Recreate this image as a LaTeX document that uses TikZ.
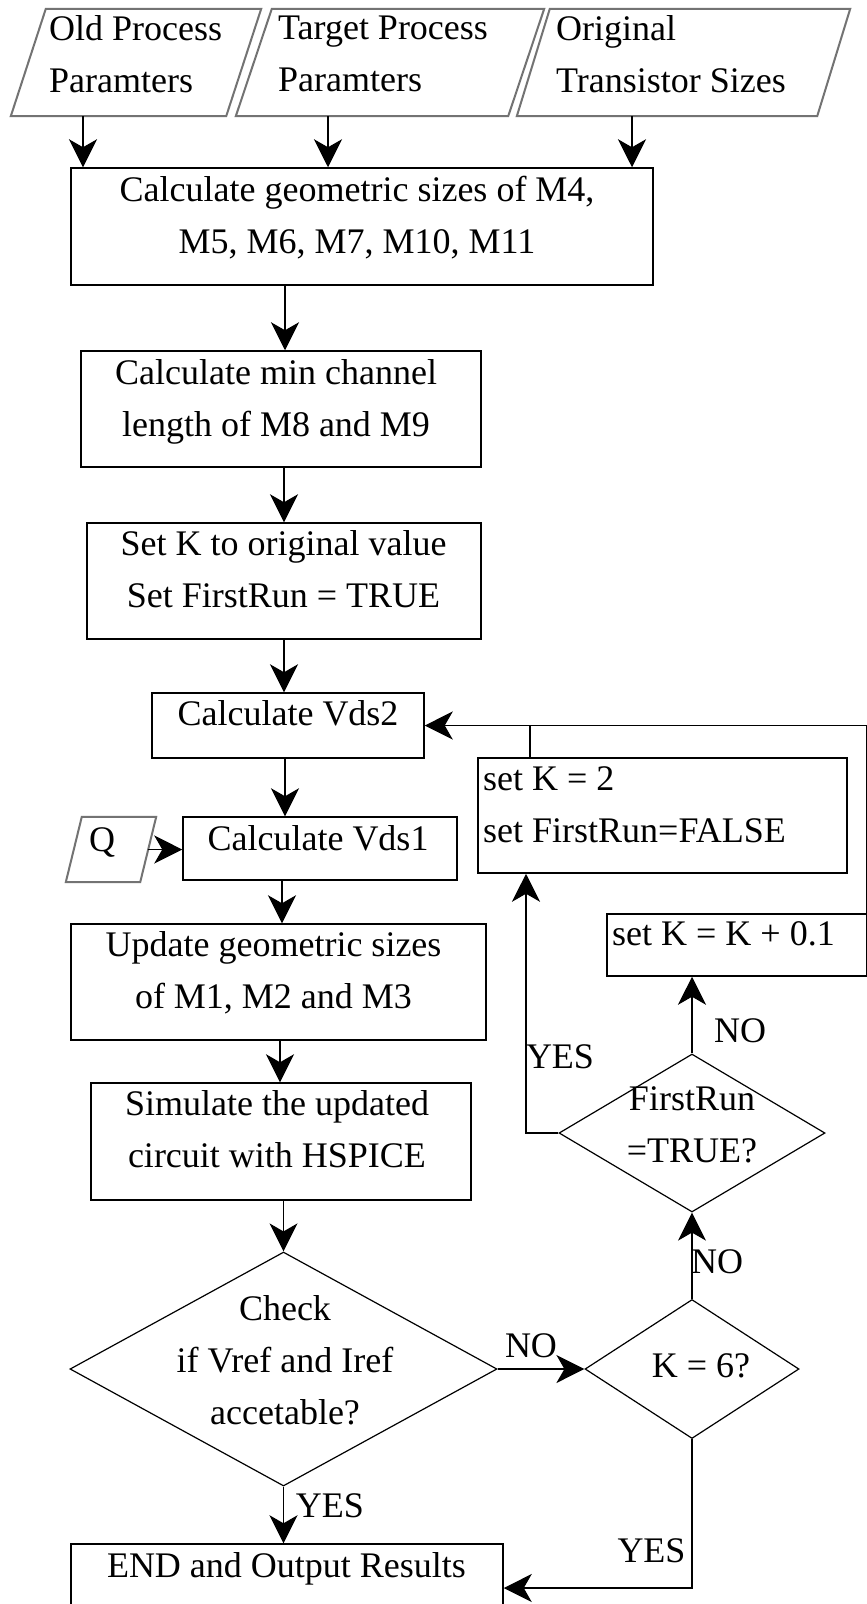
\documentclass[tikz,border=0pt]{standalone}
\usepackage{fontspec}
\setmainfont{Liberation Serif}
\usetikzlibrary{arrows.meta,shapes.geometric}
\newcommand\diagfont{\fontsize{36}{52}\selectfont}
\newcommand\drawpara[2]{\draw[iopath] ([xshift=#2/2]#1.north west) -- ([xshift=#2/2]#1.north east) -- ([xshift=-#2/2]#1.south east) -- ([xshift=-#2/2]#1.south west) -- cycle;}
\begin{document}
\begin{tikzpicture}[x=1pt,y=-1pt,
  box/.style={draw, line width=1.5pt, inner sep=0pt, rectangle},
  io/.style={rectangle, inner sep=0pt},
  iopath/.style={draw=black!55, line width=2pt, line join=miter},
  dec/.style={draw, line width=1.2pt, diamond, inner sep=2pt},
  txt/.style={font=\diagfont, inner sep=0pt},
  arr/.style={line width=1.5pt, -{Stealth[length=28pt,width=28pt,inset=8pt]}},
  ln/.style={line width=1.5pt}]
\fill[white] (0,0) rectangle (867,1604);
\useasboundingbox (0,0) rectangle (867,1604);

% input parallelograms
\node[io, minimum width=215, minimum height=107] (P1) at (136,62.5) {};
\node[io, minimum width=272, minimum height=107] (P2) at (390,62.5) {};
\node[io, minimum width=300, minimum height=107] (P3) at (683.5,62.5) {};
\drawpara{P1}{35}
\drawpara{P2}{36}
\drawpara{P3}{33}
\node[txt, anchor=west, align=left] (t1) at (49,53.7) {Old Process\\Paramters};
\node[txt, anchor=west, align=left] (t2) at (278,54) {Target Process\\Paramters};
\node[txt, anchor=west, align=left] (t3) at (556,53.7) {Original\\Transistor Sizes};

% main column
\node[box, minimum width=582, minimum height=117] (B1) at (362,226.5) {};
\node[txt, align=center] (tb1) at (357,217.7) {Calculate geometric sizes of M4,\\M5, M6, M7, M10, M11};
\node[box, minimum width=400, minimum height=116] (B2) at (281,409) {};
\node[txt, align=center] (tb2) at (276,401.6) {Calculate min channel\\length of M8 and M9};
\node[box, minimum width=394, minimum height=116] (B3) at (284,581) {};
\node[txt, align=center] (tb3) at (283.5,569) {Set K to original value\\Set FirstRun = TRUE};
\node[box, minimum width=272, minimum height=65] (V2) at (288,725.5) {};
\node[txt, anchor=base] (tv2) at (288,725) {Calculate Vds2};
\node[box, minimum width=274, minimum height=63] (V1) at (320,848.5) {};
\node[txt, anchor=base] (tv1) at (318,850) {Calculate Vds1};
\node[io, minimum width=74, minimum height=65] (Q) at (111,849.5) {};
\drawpara{Q}{16}
\node[txt, anchor=base] (tq) at (102,851) {Q};
\node[box, minimum width=415, minimum height=116] (U) at (278.5,982) {};
\node[txt, align=center] (tu) at (273.5,972.7) {Update geometric sizes\\of M1, M2 and M3};
\node[box, minimum width=380, minimum height=117] (S) at (281,1141.5) {};
\node[txt, align=center] (ts) at (277,1129.2) {Simulate the updated\\circuit with HSPICE};
\node[dec, minimum width=427, minimum height=234] (C) at (283.5,1369) {};
\node[txt, align=center] (tc) at (285,1360) {Check\\if Vref and Iref\\accetable?};
\node[box, minimum width=432, minimum height=88] (E) at (287,1588) {};
\node[txt, anchor=base] (te) at (286.5,1577) {END and Output Results};

% right column
\node[dec, minimum width=214, minimum height=139] (K6) at (692,1369) {};
\node[txt, anchor=base] (tk6) at (701,1377) {K = 6?};
\node[dec, minimum width=266, minimum height=158] (FR) at (692,1133) {};
\node[txt, align=center] (tfr) at (692,1125) {FirstRun\\=TRUE?};
\node[box, minimum width=369, minimum height=115] (S2) at (662.5,815.5) {};
\node[txt, anchor=west, align=left] (ts2) at (483,804.5) {set K = 2\\set FirstRun=FALSE};
\node[box, minimum width=260, minimum height=62] (K01) at (737,945) {};
\node[txt, anchor=base west] (tk01) at (612,945) {set K = K + 0.1};

% labels
\node[txt, anchor=base] (l1) at (531,1357) {NO};
\node[txt, anchor=base] (l2) at (330,1517) {YES};
\node[txt, anchor=base] (l3) at (717,1273) {NO};
\node[txt, anchor=base] (l4) at (740,1042) {NO};
\node[txt, anchor=base] (l5) at (560,1068) {YES};
\node[txt, anchor=base] (l6) at (651.5,1562) {YES};

% connectors
\draw[arr] (P1.south -| 83,0) -- (B1.north -| 83,0);
\draw[arr] (P2.south -| 328,0) -- (B1.north -| 328,0);
\draw[arr] (P3.south -| 632,0) -- (B1.north -| 632,0);
\draw[arr] (B1.south -| 285,0) -- (B2.north -| 285,0);
\draw[arr] (B2.south -| 284,0) -- (B3.north -| 284,0);
\draw[arr] (B3.south -| 284,0) -- (V2.north -| 284,0);
\draw[arr] (V2.south -| 285,0) -- (V1.north -| 285,0);
\draw[arr] (Q.east) -- (Q.east -| V1.west);
\draw[arr] (V1.south -| 282,0) -- (U.north -| 282,0);
\draw[arr] (U.south -| 280,0) -- (S.north -| 280,0);
\draw[arr] (S.south -| C.north) -- (C.north);
\draw[arr] (C.south) -- (C.south |- E.north);
\draw[arr] (C.east) -- (K6.west);
\draw[arr] (K6.north) -- (FR.south);
\draw[arr] (FR.north) -- (FR.north |- K01.south);
\draw[arr] (FR.west) -| (S2.south -| 526,0);
\draw[ln] (S2.north -| 530,0) -- (V2.east -| 530,0);
\draw[arr] ([xshift=-1.5pt]K01.north east) |- (V2.east);
\draw[arr] (K6.south) |- (E.east);
\end{tikzpicture}
\end{document}
